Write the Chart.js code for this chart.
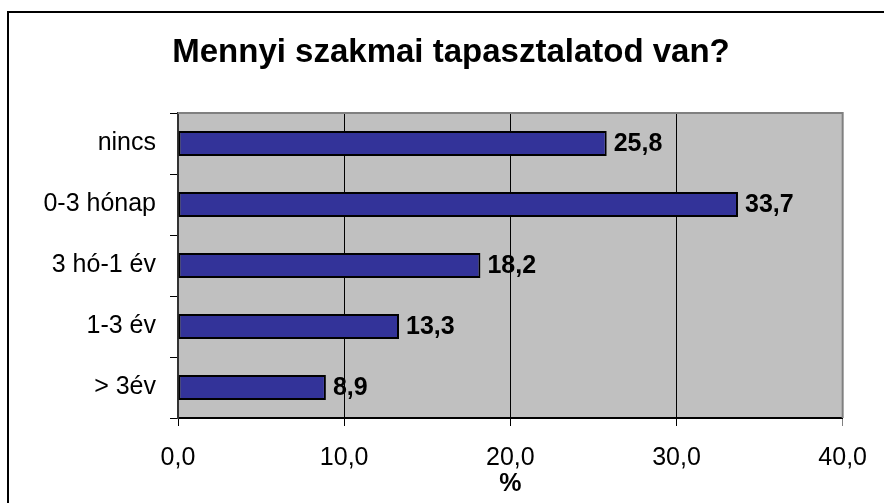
<!DOCTYPE html>
<html>
<head>
<meta charset="utf-8">
<script src="https://cdn.jsdelivr.net/npm/chart.js@4.4.1/dist/chart.umd.min.js"></script>
<style>
  body { margin: 0; background: #fff; overflow: hidden; }
  #wrap { position: relative; width: 884px; height: 503px; }
  #frame { position: absolute; left: 7px; top: 11px; width: 900px; height: 520px; border: 2px solid #000; }
  canvas { position: absolute; left: 0; top: 0; }
</style>
</head>
<body>
<div id="wrap">
  <div id="frame"></div>
  <canvas id="myChart" width="884" height="503"></canvas>
</div>
<script>
let categories = ['nincs', '0-3 hónap', '3 hó-1 év', '1-3 év', '> 3év'];
let values = [25.8, 33.7, 18.2, 13.3, 8.9];
let chartTitle = 'Mennyi szakmai tapasztalatod van?';
let axisTitle = '%';

const font = 'Liberation Sans, Arial, sans-serif';

function comma(v) {
    return Number(v).toFixed(1).replace('.', ',');
}

// fond gris de la zone de tracé + bordure haut/droite
const plotBackground = {
    id: 'plotBackground',
    beforeDraw(chart) {
        let {ctx, chartArea: a} = chart;
        ctx.save();
        ctx.fillStyle = '#C0C0C0';
        ctx.fillRect(a.left, a.top, a.right - a.left, a.bottom - a.top);
        ctx.restore();
    },
    beforeDatasetsDraw(chart) {
        let {ctx, chartArea: a} = chart;
        ctx.save();
        ctx.strokeStyle = '#808080';
        ctx.lineWidth = 2;
        ctx.beginPath();
        ctx.moveTo(a.left, a.top);
        ctx.lineTo(a.right, a.top);
        ctx.lineTo(a.right, a.bottom);
        ctx.stroke();
        ctx.restore();
    }
};

// titre centré sur le cadre du graphique (qui dépasse à droite)
const frameTitle = {
    id: 'frameTitle',
    afterDraw(chart) {
        let ctx = chart.ctx;
        ctx.save();
        ctx.font = 'bold 33px ' + font;
        ctx.fillStyle = '#000';
        ctx.textAlign = 'center';
        ctx.textBaseline = 'middle';
        ctx.fillText(chartTitle, 451, 53);
        ctx.restore();
    }
};

// étiquettes des valeurs au bout des barres
const valueLabels = {
    id: 'valueLabels',
    afterDatasetsDraw(chart) {
        let ctx = chart.ctx;
        let meta = chart.getDatasetMeta(0);
        ctx.save();
        ctx.font = 'bold 25px ' + font;
        ctx.fillStyle = '#000';
        ctx.textAlign = 'left';
        ctx.textBaseline = 'middle';
        meta.data.forEach((bar, i) => {
            ctx.fillText(comma(values[i]), bar.x + 7, bar.y + 1);
        });
        ctx.restore();
    }
};

let ctx = document.getElementById('myChart').getContext('2d');
let chart = new Chart(ctx, {
    type: 'bar',
    data: {
        labels: categories,
        datasets: [{
            data: values,
            backgroundColor: '#333399',
            borderColor: '#000',
            borderWidth: 2,
            borderSkipped: false,
            barPercentage: 0.41,
            categoryPercentage: 1
        }]
    },
    options: {
        indexAxis: 'y',
        responsive: false,
        animation: false,
        layout: { padding: { left: 0, right: 39, top: 113, bottom: 0 } },
        plugins: {
            legend: { display: false },
            tooltip: { enabled: false },
            title: { display: false }
        },
        scales: {
            x: {
                min: 0,
                max: 40,
                ticks: {
                    stepSize: 10,
                    color: '#000',
                    padding: 17,
                    font: { family: font, size: 25 },
                    callback: v => comma(v)
                },
                grid: {
                    color: c => c.tick && c.tick.value === 40 ? '#808080' : '#000',
                    lineWidth: 1,
                    tickLength: 8
                },
                border: { color: '#000', width: 2 },
                title: {
                    display: true,
                    text: axisTitle,
                    color: '#000',
                    font: { family: font, size: 25, weight: 'bold' },
                    padding: { top: 0, bottom: 4 }
                },
                afterFit: s => { s.height = 85; }
            },
            y: {
                ticks: {
                    color: '#000',
                    padding: 14,
                    font: { family: font, size: 25 }
                },
                grid: {
                    offset: true,
                    drawOnChartArea: false,
                    color: '#000',
                    tickLength: 8
                },
                border: { color: '#333', width: 2 },
                afterFit: s => { s.width = 178; }
            }
        }
    },
    plugins: [plotBackground, valueLabels, frameTitle]
});
</script>
</body>
</html>
